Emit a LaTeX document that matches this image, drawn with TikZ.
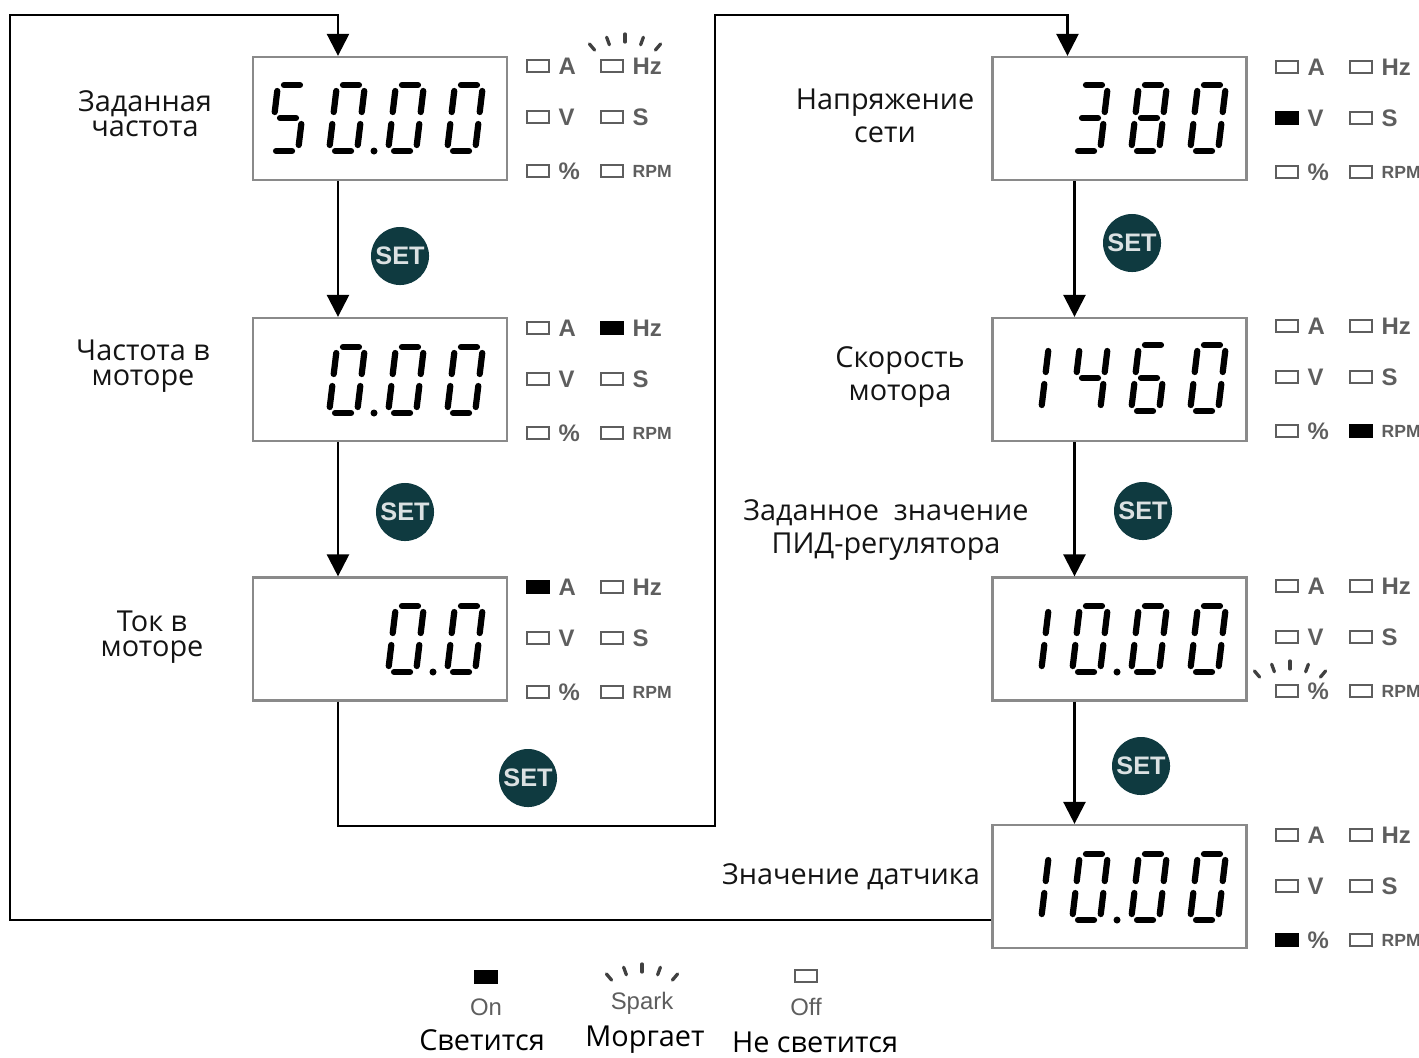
\documentclass[tikz,border=0pt]{standalone}
\usepackage{fontspec}
\setmainfont{Open Sans}
\newfontfamily\lampfont{Liberation Sans}
\usepackage{tikz}
\usetikzlibrary{arrows.meta}
\usepackage{xcolor}
\definecolor{setteal}{HTML}{0F3A40}
\definecolor{boxgray}{HTML}{8A8A8A}
\definecolor{lampgray}{HTML}{5E5E5E}

% seven segment digits, one x1/y1/x2/y2 per segment
\newcommand{\dgzero}{-8/-33/8/-33,14/-27/14/-6,14/6/14/27,-8/33/8/33,-14/6/-14/27,-14/-27/-14/-6}
\newcommand{\dgone}{14/-27/14/-6,14/6/14/27}
\newcommand{\dgthree}{-8/-33/8/-33,14/-27/14/-6,14/6/14/27,-8/33/8/33,-8/0/8/0}
\newcommand{\dgfour}{14/-27/14/-6,14/6/14/27,-14/-27/-14/-6,-8/0/8/0}
\newcommand{\dgfive}{-8/-33/8/-33,-14/-27/-14/-6,-8/0/8/0,14/6/14/27,-8/33/8/33}
\newcommand{\dgsix}{-8/-33/8/-33,-14/-27/-14/-6,-8/0/8/0,14/6/14/27,-8/33/8/33,-14/6/-14/27}
\newcommand{\dgeight}{-8/-33/8/-33,14/-27/14/-6,14/6/14/27,-8/33/8/33,-14/6/-14/27,-14/-27/-14/-6,-8/0/8/0}

\newcommand{\segdigit}[3]{%
  \begin{scope}[shift={(#1,#2)},xslant=0.12]
    \foreach \xa/\ya/\xb/\yb in #3 {\draw[seg] (\xa,\ya) -- (\xb,\yb);}
  \end{scope}}
\newcommand{\segdot}[2]{\fill (#1,#2) circle (3.5);}

% lamp panel: name, first lamp centre, lit lamp (0 = none)
\newcommand{\panel}[4]{%
  \foreach \n/\dx/\dy/\txt in {1/0/0/A,2/0/51/V,3/0/105/\%,4/74/0/Hz,5/74/51/S,6/74/105/{\fontsize{5}{5}\selectfont RPM}} {
    \ifnum\n=#4\relax
      \node[lampon] (#1-l\n) at (#2+\dx,#3+\dy) {};
    \else
      \node[lampoff] (#1-l\n) at (#2+\dx,#3+\dy) {};
    \fi
    \node[lamptxt] (#1-t\n) at (#2+\dx+20,#3+\dy) {\txt};
  }}

% blinking marks
\newcommand{\spark}[2]{%
  \foreach \dx/\dy/\t in {-33/9/-40,-17/3/-20,0/0/0,17/3/20,33/9/40}
    \draw[sparkline] (#1+\dx,#2+\dy) ++(\t-90:-4) -- ++(\t-90:8);}

\begin{document}
\begin{tikzpicture}[x=0.01cm,y=-0.01cm,
  lcd/.style={draw=boxgray,line width=0.22mm,minimum width=2.54cm,minimum height=1.23cm,inner sep=0},
  seg/.style={line width=0.62mm,line cap=round},
  lampoff/.style={draw=lampgray,line width=0.15mm,minimum width=2.2mm,minimum height=1.2mm,inner sep=0},
  lampon/.style={lampoff,fill=black,draw=black},
  lamptxt/.style={anchor=west,inner sep=0,text=lampgray,font=\lampfont\bfseries\fontsize{6.8}{7}\selectfont},
  sparkline/.style={line width=0.33mm,line cap=round,black!75},
  setbtn/.style={circle,fill=setteal,text=white!85!setteal,minimum size=0.58cm,inner sep=0,
    font=\lampfont\bfseries\fontsize{7.2}{7}\selectfont},
  lbl/.style={align=center,inner sep=0,text=black!92,font=\fontsize{8.2}{7.2}\selectfont},
  lblwide/.style={lbl,font=\fontsize{8.2}{9.2}\selectfont},
  legtxt/.style={inner sep=0,text=lampgray,font=\lampfont\fontsize{6.8}{7}\selectfont},
  flow/.style={line width=0.25mm,-{Triangle[width=2.2mm,length=2.2mm]}}]
\useasboundingbox (0,0) rectangle (1419,1057);

% left column
\node[lcd] (f1) at (380,118.5) {};
\node[lcd] (f2) at (380,379.5) {};
\node[lcd] (f3) at (380,639) {};
\node[lbl] (lf1) at (145,114) {Заданная\\частота};
\node[lbl] (lf2) at (143,366) {Частота в\\моторе};
\node[lbl] (lf3) at (152,637) {Ток в\\моторе};

\segdigit{288}{118}{\dgfive}
\segdigit{347}{118}{\dgzero}
\segdot{374}{151}
\segdigit{406}{118}{\dgzero}
\segdigit{465}{118}{\dgzero}

\segdigit{347}{380}{\dgzero}
\segdot{374}{413}
\segdigit{406}{380}{\dgzero}
\segdigit{465}{380}{\dgzero}

\segdigit{406}{639}{\dgzero}
\segdot{433}{672}
\segdigit{465}{639}{\dgzero}

\panel{p1}{538}{66}{0}
\panel{p2}{538}{328}{4}
\panel{p3}{538}{587}{1}
\spark{625}{38}

% right column
\node[lcd] (r1) at (1119.5,118.5) {};
\node[lcd] (r2) at (1119.5,379.5) {};
\node[lcd] (r3) at (1119.5,639) {};
\node[lcd] (r4) at (1119.5,886.5) {};
\node[lblwide] (lr1) at (885,116) {Напряжение\\сети};
\node[lblwide] (lr2) at (900,377) {Скорость\\мотора};
\node[lblwide] (lr3) at (886,530) {Заданное~~значение\\ПИД-регулятора};
\node[lbl] (lr4) at (851,877) {Значение датчика};

\segdigit{1090}{118}{\dgthree}
\segdigit{1149}{118}{\dgeight}
\segdigit{1208}{118}{\dgzero}

\segdigit{1031}{378}{\dgone}
\segdigit{1090}{378}{\dgfour}
\segdigit{1149}{378}{\dgsix}
\segdigit{1208}{378}{\dgzero}

\segdigit{1031}{639}{\dgone}
\segdigit{1090}{639}{\dgzero}
\segdot{1117}{672}
\segdigit{1149}{639}{\dgzero}
\segdigit{1208}{639}{\dgzero}

\segdigit{1031}{887}{\dgone}
\segdigit{1090}{887}{\dgzero}
\segdot{1117}{920}
\segdigit{1149}{887}{\dgzero}
\segdigit{1208}{887}{\dgzero}

\panel{q1}{1287}{67}{2}
\panel{q2}{1287}{326}{6}
\panel{q3}{1287}{586}{0}
\panel{q4}{1287}{835}{3}
\spark{1290}{665}

% SET buttons
\node[setbtn] (s1) at (400,256) {SET};
\node[setbtn] (s2) at (405,512) {SET};
\node[setbtn] (s3) at (528,778) {SET};
\node[setbtn] (s4) at (1132,243) {SET};
\node[setbtn] (s5) at (1143,511) {SET};
\node[setbtn] (s6) at (1141,766) {SET};

% connectors
\coordinate (lefttop) at (10,15);
\coordinate (midbot) at (715,826);
\coordinate (midtop) at (715,15);
\draw[flow] ([xshift=-0.42cm]f1.south) -- ([xshift=-0.42cm]f2.north);
\draw[flow] ([xshift=-0.42cm]f2.south) -- ([xshift=-0.42cm]f3.north);
\draw[flow] ([xshift=-0.42cm]f3.south) |- (midbot) -- (midtop) -| ([xshift=-0.52cm]r1.north);
\draw[flow] ([xshift=-0.45cm]r1.south) -- ([xshift=-0.45cm]r2.north);
\draw[flow] ([xshift=-0.45cm]r2.south) -- ([xshift=-0.45cm]r3.north);
\draw[flow] ([xshift=-0.45cm]r3.south) -- ([xshift=-0.45cm]r4.north);
\draw[flow] ([yshift=-0.335cm]r4.west) -| (lefttop) -| ([xshift=-0.42cm]f1.north);

% legend
\node[lampon] (lon) at (486,977) {};
\node[legtxt] (ton) at (486,1007) {On};
\spark{642}{968}
\node[legtxt] (tsp) at (642,1003) {Spark};
\node[lampoff] (loff) at (806,976) {};
\node[legtxt] (toff) at (806,1007) {Off};
\node[lbl,text=black] (ron) at (482,1040) {Светится};
\node[lbl,text=black] (rsp) at (645,1040) {Моргает};
\node[lbl,text=black] (roff) at (815,1042) {Не светится};
\end{tikzpicture}
\end{document}
